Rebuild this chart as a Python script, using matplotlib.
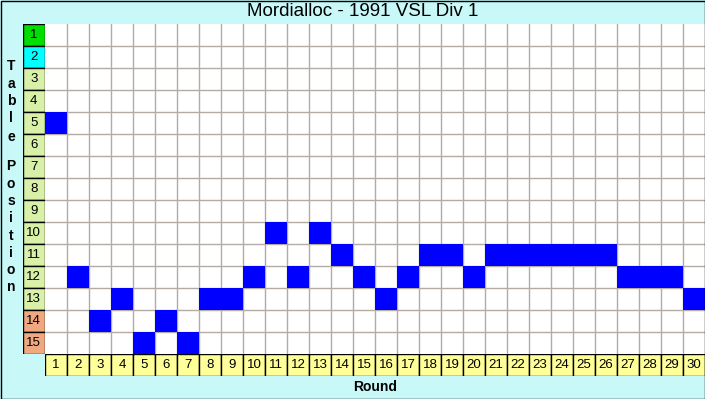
import matplotlib.pyplot as plt
import numpy as np
from matplotlib.patches import Rectangle

plt.rcParams['font.family'] = ['Liberation Sans', 'DejaVu Sans']

title = "Mordialloc - 1991 VSL Div 1"
rounds = np.arange(1, 31)
positions = [5, 12, 14, 13, 15, 14, 15, 13, 13, 12,
             10, 12, 10, 11, 12, 13, 12, 11, 11, 12,
             11, 11, 11, 11, 11, 11, 12, 12, 12, 13]
table_rows = np.arange(1, 16)
row_colours = (['#00dd00', '#00ffff'] + ['#d8f0a8'] * 11 + ['#f0a880'] * 2)

W, H = 705, 399
bg = '#c8f8f8'


def px_axes(fig, x0, y0, x1, y1):
    # pixel box (y down) -> figure axes
    return fig.add_axes([x0 / W, 1 - y1 / H, (x1 - x0) / W, (y1 - y0) / H])


fig = plt.figure(figsize=(W / 100, H / 100), dpi=100, facecolor=bg)

# main grid
ax = px_axes(fig, 45, 24, 705, 354)
ax.set_facecolor('white')
ax.set_xlim(0.5, 30.5)
ax.set_ylim(15.5, 0.5)
ax.set_xticks(np.arange(1.5, 30.5, 1))
ax.set_yticks(np.arange(1.5, 15.5, 1))
ax.grid(True, color='#b4aca4', linewidth=1)
ax.tick_params(length=0, labelbottom=False, labelleft=False)
ax.set_axisbelow(True)
for s in ax.spines.values():
    s.set_visible(False)
ax.bar(rounds, 1, bottom=np.array(positions) - 0.5, width=1,
       color='#0000ff', linewidth=0, zorder=3)

# position column
axp = px_axes(fig, 22.5, 24, 45, 354)
axp.set_xlim(0, 1)
axp.set_ylim(15.5, 0.5)
axp.axis('off')
axp.barh(table_rows, 1, height=1, color=row_colours,
         edgecolor='black', linewidth=1)
for r in table_rows:
    axp.text(0.5, r, str(r), ha='center', va='center', fontsize=9.5)

# round label row
axr = px_axes(fig, 45, 354, 705, 376)
axr.set_xlim(0.5, 30.5)
axr.set_ylim(0, 1)
axr.axis('off')
axr.bar(rounds, 1, width=1, color='#ffff99', edgecolor='black', linewidth=1)
for r in rounds:
    axr.text(r, 0.5, str(r), ha='center', va='center', fontsize=9.5)

fig.text(363 / W, 1 - 12 / H, title, ha='center', va='center', fontsize=13.5)
fig.text(375 / W, 1 - 387 / H, "Round", ha='center', va='center',
         fontsize=10, fontweight='bold')

label = "Table Position"
ys = [66, 84, 101, 118, 137, None, 166, 184, 201, 218, 236, 253, 270, 287]
for ch, yy in zip(label, ys):
    if yy is not None:
        fig.text(11 / W, 1 - yy / H, ch, ha='center', va='center',
                 fontsize=10, fontweight='bold')

fig.patches.append(Rectangle((0.5 / W, 0.5 / H), (W - 1) / W, (H - 1) / H,
                             transform=fig.transFigure, fill=False,
                             edgecolor='black', linewidth=1))

fig.savefig('out.png', dpi=100, facecolor=bg)
